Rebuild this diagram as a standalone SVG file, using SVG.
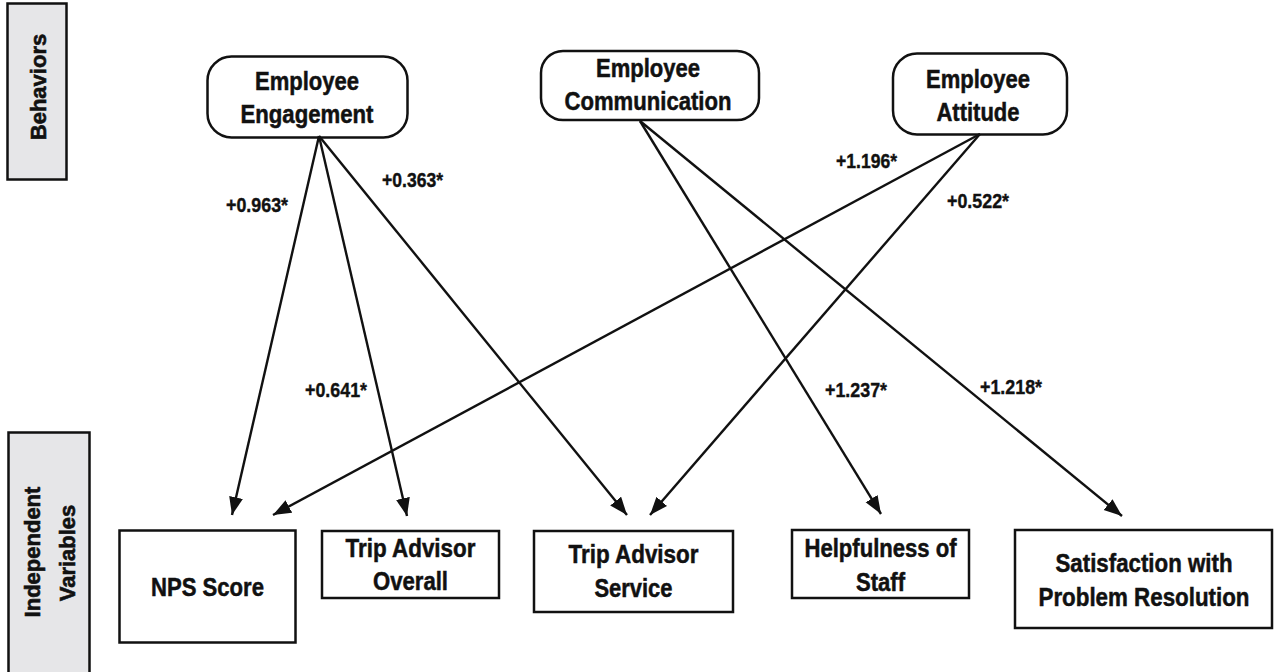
<svg xmlns="http://www.w3.org/2000/svg" width="1274" height="672" viewBox="0 0 1274 672">
<style>
.side{fill:#e6e6e8;stroke:#111;stroke-width:2.5}
.node{fill:#fff;stroke:#111;stroke-width:2.5}
.t{font-family:"Liberation Sans",Arial,sans-serif;font-weight:bold;font-size:25px;fill:#111;stroke:#111;stroke-width:0.5;text-anchor:middle}
.rt{font-family:"Liberation Sans",Arial,sans-serif;font-weight:bold;font-size:22px;fill:#111;stroke:#111;stroke-width:0.6;text-anchor:middle}
.lbl{font-family:"Liberation Sans",Arial,sans-serif;font-weight:bold;font-size:21px;fill:#111;stroke:#111;stroke-width:0.4}
.edge{stroke:#111;stroke-width:2.4;fill:none;marker-end:url(#arr)}
</style>
<defs>
<marker id="arr" markerUnits="userSpaceOnUse" markerWidth="20" markerHeight="16" refX="18" refY="7" orient="auto">
<path d="M0,0 L18,7 L0,14 z" fill="#111"/>
</marker>
</defs>
<rect width="1274" height="672" fill="#fff"/>

<g id="behaviors">
<rect class="side" x="7.5" y="3.5" width="59" height="176"/>
<text class="rt" font-size="20.5" transform="translate(46,87) rotate(-90)">Behaviors</text>
</g>
<g id="independent-variables">
<rect class="side" x="8.5" y="432.5" width="81" height="245"/>
<text class="rt" transform="translate(40,552) rotate(-90)">Independent</text>
<text class="rt" transform="translate(75,553) rotate(-90)">Variables</text>
</g>

<g id="employee-engagement">
<rect class="node" x="207.5" y="56.5" width="200" height="81" rx="24"/>
<text class="t" x="307" y="90" textLength="104" lengthAdjust="spacingAndGlyphs">Employee</text>
<text class="t" x="307" y="123" textLength="133" lengthAdjust="spacingAndGlyphs">Engagement</text>
</g>
<g id="employee-communication">
<rect class="node" x="541" y="51" width="218" height="69" rx="22"/>
<text class="t" x="648" y="77" textLength="104" lengthAdjust="spacingAndGlyphs">Employee</text>
<text class="t" x="648" y="110" textLength="167" lengthAdjust="spacingAndGlyphs">Communication</text>
</g>
<g id="employee-attitude">
<rect class="node" x="893" y="53.5" width="174" height="81" rx="24"/>
<text class="t" x="978" y="88" textLength="104" lengthAdjust="spacingAndGlyphs">Employee</text>
<text class="t" x="978" y="121" textLength="83" lengthAdjust="spacingAndGlyphs">Attitude</text>
</g>

<g id="nps-score">
<rect class="node" x="119.5" y="530.5" width="176" height="112"/>
<text class="t" x="207.5" y="596" textLength="113" lengthAdjust="spacingAndGlyphs">NPS Score</text>
</g>
<g id="trip-advisor-overall">
<rect class="node" x="322" y="531" width="177" height="67"/>
<text class="t" x="410.5" y="557" textLength="130" lengthAdjust="spacingAndGlyphs">Trip Advisor</text>
<text class="t" x="410.5" y="590" textLength="75" lengthAdjust="spacingAndGlyphs">Overall</text>
</g>
<g id="trip-advisor-service">
<rect class="node" x="534" y="531" width="199" height="81"/>
<text class="t" x="633.5" y="563" textLength="130" lengthAdjust="spacingAndGlyphs">Trip Advisor</text>
<text class="t" x="633.5" y="597" textLength="78" lengthAdjust="spacingAndGlyphs">Service</text>
</g>
<g id="helpfulness-of-staff">
<rect class="node" x="792" y="530" width="177" height="68"/>
<text class="t" x="880.5" y="557" textLength="152" lengthAdjust="spacingAndGlyphs">Helpfulness of</text>
<text class="t" x="880.5" y="591" textLength="49" lengthAdjust="spacingAndGlyphs">Staff</text>
</g>
<g id="satisfaction-problem-resolution">
<rect class="node" x="1015" y="530" width="257" height="98"/>
<text class="t" x="1144" y="572" textLength="177" lengthAdjust="spacingAndGlyphs">Satisfaction with</text>
<text class="t" x="1144" y="606" textLength="211" lengthAdjust="spacingAndGlyphs">Problem Resolution</text>
</g>

<g id="connectors">
<line class="edge" x1="319" y1="136" x2="232" y2="515"/>
<line class="edge" x1="319" y1="136" x2="407" y2="516"/>
<line class="edge" x1="319" y1="136" x2="627" y2="515"/>
<line class="edge" x1="640" y1="121" x2="881" y2="514"/>
<line class="edge" x1="640" y1="121" x2="1122" y2="516"/>
<line class="edge" x1="980" y1="134" x2="273" y2="515"/>
<line class="edge" x1="980" y1="134" x2="650" y2="515"/>
</g>

<g id="labels">
<text class="lbl" x="226" y="212" textLength="62" lengthAdjust="spacingAndGlyphs">+0.963*</text>
<text class="lbl" x="382" y="187" textLength="61" lengthAdjust="spacingAndGlyphs">+0.363*</text>
<text class="lbl" x="836" y="168" textLength="61" lengthAdjust="spacingAndGlyphs">+1.196*</text>
<text class="lbl" x="947" y="208" textLength="62" lengthAdjust="spacingAndGlyphs">+0.522*</text>
<text class="lbl" x="305" y="397" textLength="62" lengthAdjust="spacingAndGlyphs">+0.641*</text>
<text class="lbl" x="825" y="397" textLength="62" lengthAdjust="spacingAndGlyphs">+1.237*</text>
<text class="lbl" x="980" y="394" textLength="62" lengthAdjust="spacingAndGlyphs">+1.218*</text>
</g>
</svg>
